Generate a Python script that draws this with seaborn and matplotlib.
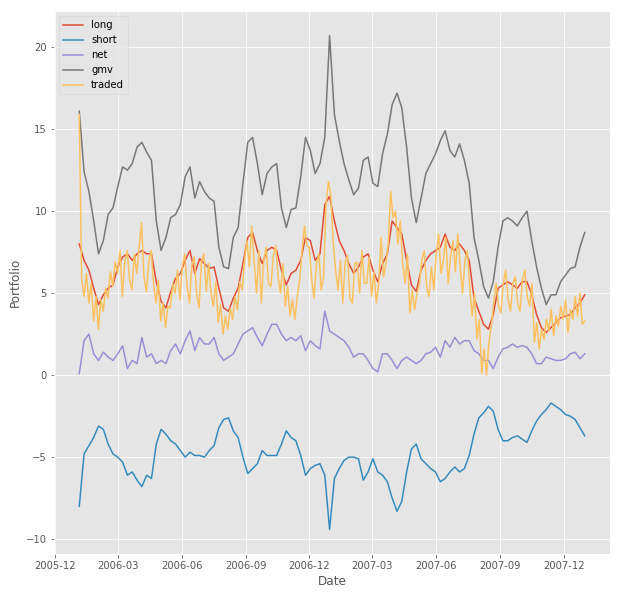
import matplotlib
matplotlib.use("Agg")
import matplotlib.pyplot as plt
import matplotlib.dates as mdates
import pandas as pd
import seaborn as sns

start, end = "2006-01-05", "2007-12-31"
dates = pd.date_range(start, end, periods=106)
dates_traded = pd.date_range(start, end, periods=212)

gmv = [16.1, 12.4, 11.2, 9.4, 7.4, 8.2, 9.8, 10.2, 11.5, 12.7, 12.5, 12.9, 13.9, 14.2, 13.6, 13.1,
       9.4, 7.6, 8.4, 9.6, 9.8, 10.4, 12.1, 12.7, 10.8, 11.8, 11.2,
       10.8, 10.6, 7.8, 6.6, 6.5, 8.4, 9.0, 11.7, 14.2, 14.5, 12.9, 11.0, 12.3, 12.7, 12.9, 10.2,
       9.0, 10.1, 10.2, 12.1, 14.5, 13.7, 12.3, 12.9,
       14.5, 20.7,
       15.9, 14.3, 12.9, 11.9, 11.0, 11.4, 13.1, 13.3, 11.7, 11.5, 13.5, 14.7, 16.5, 17.2, 16.3, 13.9,
       10.8, 9.3, 10.8, 12.3, 12.9, 13.5, 14.3, 14.9, 13.7, 13.3,
       14.1, 13.1, 11.7, 8.4, 7.0, 5.4, 4.7, 5.7, 7.8, 9.4, 9.6, 9.4, 9.1, 9.6, 10.0, 8.2, 6.6, 5.3,
       4.3, 4.9, 4.9, 5.7, 6.1, 6.5, 6.6, 7.8, 8.7]

long = [8.0, 7.0, 6.4, 5.3, 4.3, 4.9, 5.3, 5.5, 6.6, 7.2, 7.4, 7.0, 7.4, 7.6, 7.4, 7.4, 5.7, 4.5,
        4.1, 5.1, 5.9, 6.2, 7.0, 7.6, 6.2, 7.1, 6.8,
        6.5, 6.6, 5.3, 4.1, 3.9, 4.7, 5.3, 6.8, 8.4, 8.7, 7.6, 6.8, 7.6, 7.8, 7.6, 6.4, 5.5, 6.2,
        6.4, 7.0, 8.4, 8.2, 7.0, 7.4,
        10.4, 10.9,
        9.4, 8.2, 7.6, 6.8, 6.2, 6.6, 7.2, 7.4, 6.4, 5.7, 6.8, 7.4, 9.4, 9.0, 8.6, 7.0, 5.5, 5.1,
        6.4, 7.0, 7.4, 7.6, 7.8, 8.6, 7.8, 7.6,
        8.0, 7.6, 7.0, 4.7, 3.9, 3.1, 2.8, 3.7, 5.3, 5.5, 5.7, 5.5, 5.3, 5.7, 5.7, 4.9, 3.7, 2.9,
        2.6, 2.9, 3.2, 3.5, 3.6, 3.7, 4.1, 4.4, 4.9]

short = [-8.0, -4.8, -4.3, -3.8, -3.1, -3.3, -4.2, -4.8, -5.0, -5.3, -6.1, -5.9, -6.4, -6.8, -6.1,
         -6.3, -4.2, -3.3, -3.6, -4.0, -4.2, -4.6, -5.0, -4.7, -4.9, -4.9, -5.0,
         -4.6, -4.3, -3.2, -2.7, -2.6, -3.4, -3.8, -5.0, -6.0, -5.7, -5.4, -4.6, -4.9, -4.9, -4.9,
         -4.2, -3.4, -3.8, -4.0, -4.9, -6.1, -5.7, -5.5, -5.4,
         -6.1, -9.4,
         -6.3, -5.7, -5.2, -5.0, -5.0, -5.1, -6.4, -5.9, -5.1, -5.9, -6.1, -6.5, -7.5, -8.3, -7.7,
         -5.9, -4.5, -4.2, -5.1, -5.4, -5.7, -5.9, -6.5, -6.3, -5.9, -5.6,
         -5.9, -5.7, -4.9, -3.6, -2.6, -2.3, -1.9, -2.2, -3.3, -4.0, -4.0, -3.8, -3.7, -3.9, -4.1,
         -3.4, -2.8, -2.4, -2.1, -1.7, -1.9, -2.1, -2.4, -2.5, -2.7, -3.2, -3.7]

net = [0.1, 2.1, 2.5, 1.3, 0.9, 1.4, 1.1, 0.9, 1.3, 1.8, 0.4, 0.9, 0.7, 2.3, 1.1, 1.3, 0.7, 0.9,
       0.7, 1.5, 1.9, 1.3, 2.1, 2.7, 1.5, 2.3, 1.9,
       1.9, 2.3, 1.3, 0.9, 1.1, 1.3, 1.9, 2.5, 2.7, 2.9, 2.3, 1.8, 2.5, 3.1, 3.1, 2.5, 2.1, 2.3,
       2.1, 2.4, 1.5, 2.1, 1.8, 1.6,
       3.9, 2.7,
       2.5, 2.3, 2.1, 1.7, 1.1, 1.3, 1.3, 0.9, 0.4, 0.2, 1.3, 1.3, 0.9, 0.4, 0.9, 1.1, 0.9, 0.7,
       0.9, 1.3, 1.4, 1.7, 1.1, 2.1, 1.7, 2.3,
       1.9, 2.1, 2.1, 1.5, 1.3, 0.9, 0.9, 0.4, 1.1, 1.6, 1.7, 1.9, 1.7, 1.8, 1.7, 1.3, 0.7, 0.7,
       1.1, 1.0, 0.9, 0.9, 1.0, 1.3, 1.4, 1.0, 1.3]

traded = [15.9, 5.8, 4.8, 6.2, 4.4, 5.6, 3.3, 4.8, 2.8, 4.6, 3.9, 5.3, 4.7, 6.3, 5.4, 6.9,
          6.2, 7.6, 4.8, 6.9, 7.6, 5.8, 5.2, 7.4, 6.2, 7.8, 9.3, 6.0, 5.1, 6.9, 7.6, 5.6,
          4.4, 5.8, 3.3, 4.4, 2.9, 4.2, 4.1, 5.6, 5.0, 6.4, 4.6, 6.6, 7.4, 5.4, 4.4, 6.7,
          7.2, 5.0, 4.1, 6.9, 7.4, 5.1,
          6.8, 5.0, 4.2, 5.7, 3.2, 4.3, 2.5, 3.6, 2.8, 4.1, 3.4, 4.8, 4.0, 5.7, 5.2, 7.0,
          8.2, 6.6, 9.1, 7.0, 5.0, 7.6, 4.4, 7.0, 7.8, 5.6, 5.4, 7.3, 7.9, 6.0, 5.0, 6.8,
          4.2, 5.4, 3.6, 4.6, 3.4, 4.8, 5.8, 7.6, 9.1, 7.9, 7.8, 5.9, 4.7, 6.8, 7.4, 5.2,
          6.0, 10.4, 11.8, 11.0,
          8.1, 6.4, 5.2, 7.0, 4.4, 6.9, 7.3, 4.7, 4.4, 6.8, 6.9, 5.0, 7.6, 5.6, 5.6, 7.2,
          4.8, 6.3, 4.4, 5.6, 8.4, 6.0, 6.8, 8.0, 11.2, 9.6, 10.0, 8.0, 9.4, 6.8, 5.6, 7.4,
          3.8, 5.2, 4.0, 5.0, 5.6, 7.0, 7.6, 5.4, 4.8, 6.6, 5.2, 7.4, 8.6, 6.2, 7.0, 8.4,
          5.6, 7.2, 8.2, 6.3,
          8.6, 6.6, 5.0, 7.0, 7.6, 5.4, 3.6, 5.0, 2.2, 3.4, 0.1, 1.6, 0.0, 2.0, 3.0, 4.4,
          5.6, 4.2, 3.8, 5.6, 6.4, 4.6, 3.9, 5.6, 6.0, 4.4, 3.9, 5.8, 6.4, 4.8, 4.2, 5.6,
          2.0, 3.2, 1.6, 2.8, 2.2, 3.4, 2.7, 4.0, 2.4, 3.6, 3.0, 4.2, 3.4, 4.6, 2.6, 4.0,
          3.4, 4.8, 3.6, 5.0, 3.1, 3.3]

series_names = ["long", "short", "net", "gmv", "traded"]
colors = ["#E24A33", "#348ABD", "#988ED5", "#777777", "#FBC15E"]

frames = []
for name, vals, ds in [("long", long, dates), ("short", short, dates), ("net", net, dates),
                       ("gmv", gmv, dates), ("traded", traded, dates_traded)]:
    frames.append(pd.DataFrame({"Date": ds, "Portfolio": vals, "series": name}))
df = pd.concat(frames, ignore_index=True)

plt.style.use("ggplot")
fig = plt.figure(figsize=(620 / 72, 595 / 72), dpi=72)
ax = fig.add_axes([54 / 620, 1 - 554 / 595, (610 - 54) / 620, (554 - 11) / 595])

sns.lineplot(data=df, x="Date", y="Portfolio", hue="series", hue_order=series_names,
             palette=colors, linewidth=1.5, ax=ax)

ax.xaxis.set_major_locator(mdates.MonthLocator(bymonth=[3, 6, 9, 12]))
ax.xaxis.set_major_formatter(mdates.DateFormatter("%Y-%m"))
ax.set_yticks([-10, -5, 0, 5, 10, 15, 20])
ax.set_xlabel("Date")
ax.set_ylabel("Portfolio")
handles, labels = ax.get_legend_handles_labels()
ax.legend(handles, labels, loc="upper left", title=None)

fig.savefig("out.png", dpi=72)
